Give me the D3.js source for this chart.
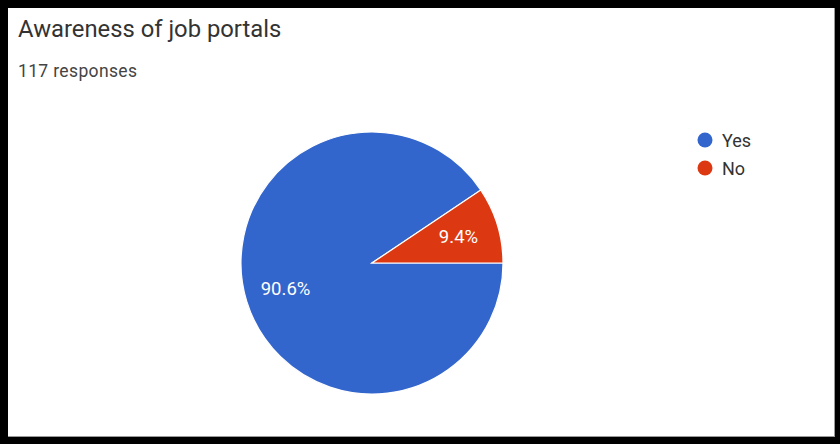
<!DOCTYPE html>
<html>
<head>
<meta charset="utf-8">
<script src="https://cdn.jsdelivr.net/npm/d3@7"></script>
<style>
  html, body { margin: 0; padding: 0; background: #000; }
  svg { display: block; }
  text { font-family: Roboto, "Noto Sans", sans-serif; }
</style>
</head>
<body>
<svg id="chart" width="840" height="444"></svg>
<script>
const title = "Awareness of job portals";
const subtitle = "117 responses";
const categories = ["Yes", "No"];
const percents = [90.6, 9.4];
const colors = ["#3366cc", "#dc3912"];

const svg = d3.select("#chart");
const W = 840, H = 444;

// frame: black surround, white card with a faint grey edge on right/bottom
svg.append("rect").attr("width", W).attr("height", H).attr("fill", "#000");
svg.append("rect").attr("x", 8).attr("y", 8).attr("width", 826).attr("height", 428).attr("fill", "#fff");
svg.append("line").attr("x1", 834.5).attr("x2", 834.5).attr("y1", 8).attr("y2", 437)
  .attr("stroke", "#9a9a9a").attr("stroke-width", 1);
svg.append("line").attr("x1", 8).attr("x2", 835).attr("y1", 436.5).attr("y2", 436.5)
  .attr("stroke", "#9a9a9a").attr("stroke-width", 1);

svg.append("text").attr("x", 18).attr("y", 37)
  .attr("font-size", 23.8).attr("fill", "#333").text(title);
svg.append("text").attr("x", 18).attr("y", 77)
  .attr("font-size", 17.5).attr("letter-spacing", 0.35).attr("fill", "#444").text(subtitle);

const cx = 372, cy = 263, R = 131;
const data = categories.map((c, i) => ({ cat: c, value: percents[i], color: colors[i] }));

const pie = d3.pie().sort(null).value(d => d.value)
  .startAngle(Math.PI / 2).endAngle(Math.PI / 2 + 2 * Math.PI);
const arcs = pie(data);
const arc = d3.arc().innerRadius(0).outerRadius(R);
const labelArc = d3.arc().innerRadius(R * 0.69).outerRadius(R * 0.69);

const g = svg.append("g").attr("transform", `translate(${cx},${cy})`);
g.selectAll("path.slice").data(arcs).join("path")
  .attr("class", "slice")
  .attr("d", arc)
  .attr("fill", d => d.data.color)
  .attr("stroke", "#fff").attr("stroke-width", 1.2);

g.selectAll("text.lbl").data(arcs).join("text")
  .attr("class", "lbl")
  .attr("transform", d => `translate(${labelArc.centroid(d)})`)
  .attr("text-anchor", "middle")
  .attr("dominant-baseline", "central")
  .attr("font-size", 18.5)
  .attr("fill", "#fff")
  .text(d => d.data.value.toFixed(1) + "%");

// legend
const lg = svg.append("g").attr("transform", "translate(705,140)");
const items = lg.selectAll("g").data(data).join("g")
  .attr("transform", (d, i) => `translate(0,${i * 28})`);
items.append("circle").attr("r", 7.5).attr("fill", d => d.color);
items.append("text").attr("x", 17).attr("y", 0)
  .attr("dominant-baseline", "central")
  .attr("font-size", 18).attr("fill", "#333")
  .text(d => d.cat);
</script>
</body>
</html>
